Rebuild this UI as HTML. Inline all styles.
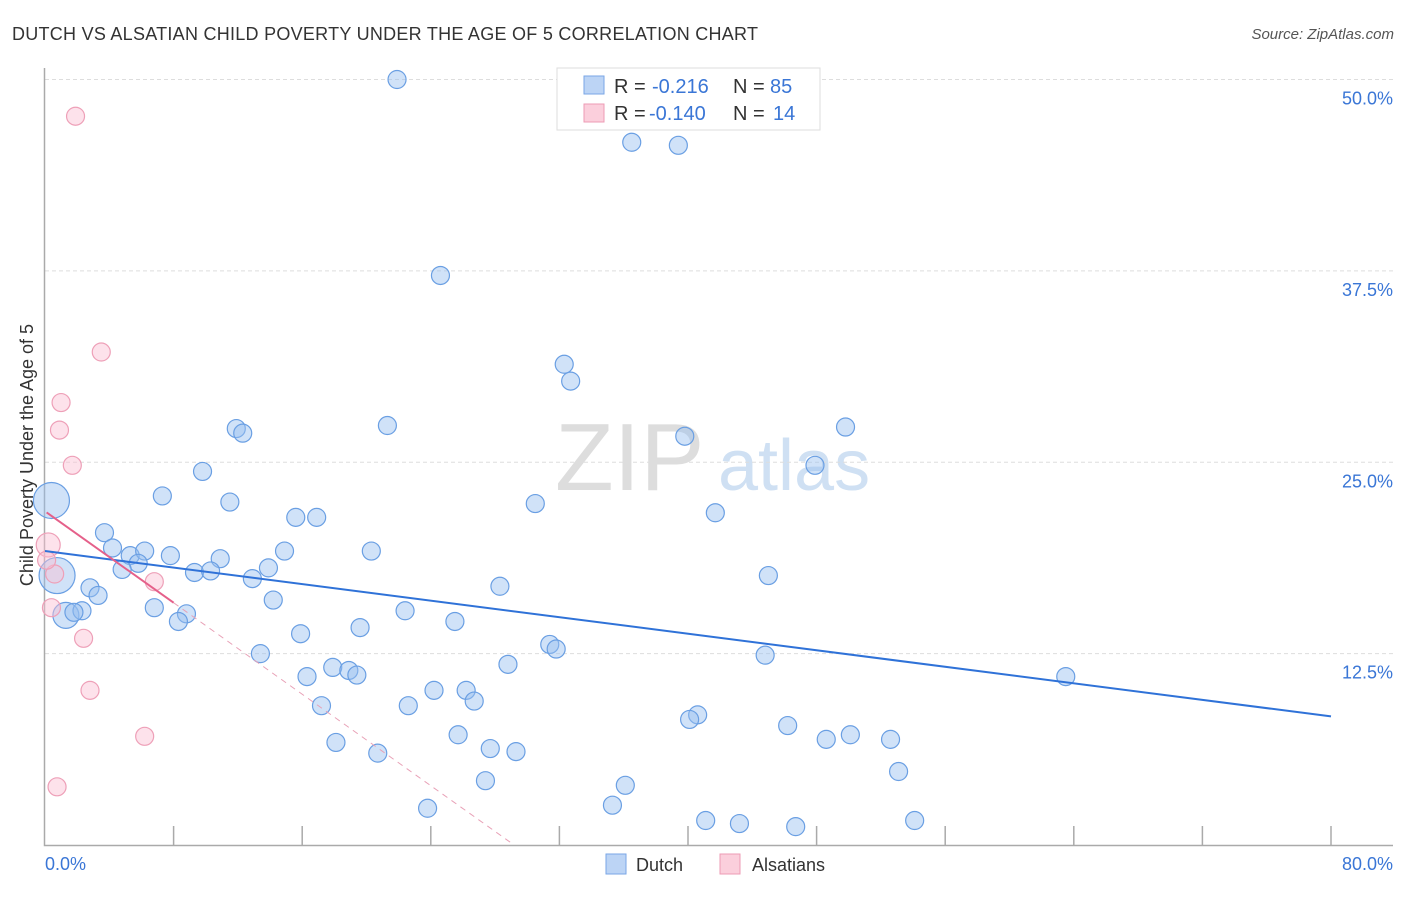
<!DOCTYPE html>
<html><head><meta charset="utf-8"><style>
body{margin:0;background:#fff;font-family:"Liberation Sans",sans-serif}
svg text{font-family:"Liberation Sans",sans-serif}
</style></head><body>
<svg id="c" width="1406" height="892">
<text x="12" y="40" font-size="18" fill="#333" textLength="746">DUTCH VS ALSATIAN CHILD POVERTY UNDER THE AGE OF 5 CORRELATION CHART</text>
<text x="1394" y="39" font-size="15" fill="#555" text-anchor="end" font-style="italic">Source: ZipAtlas.com</text>
<g><text x="555" y="490" font-size="96" fill="#ddd" font-family="Liberation Serif">ZIP</text><text x="718" y="490" font-size="72" fill="#cfe0f3">atlas</text></g>
<g id="grid"></g><g id="axes"></g><g id="pts"></g><g id="trend"></g>
<text x="33" y="455" font-size="18" fill="#333" text-anchor="middle" transform="rotate(-90 33 455)">Child Poverty Under the Age of 5</text>
<text x="45" y="870" font-size="18" fill="#3a76d6">0.0%</text>
<text x="1393" y="870" font-size="18" fill="#3a76d6" text-anchor="end">80.0%</text>
<g>
<rect x="557" y="68" width="263" height="62" fill="#fff" stroke="#ddd"/>
<rect x="584" y="76" width="20" height="18" fill="#bcd4f5" stroke="#7aa6e6"/>
<rect x="584" y="104" width="20" height="18" fill="#fbcfdc" stroke="#ee9bb4"/>
<text y="93" font-size="20" fill="#333"><tspan x="614">R =</tspan><tspan x="652" fill="#3a76d6">-0.216</tspan><tspan x="733">N =</tspan><tspan x="770" fill="#3a76d6">85</tspan></text>
<text y="120" font-size="20" fill="#333"><tspan x="614">R =</tspan><tspan x="649" fill="#3a76d6">-0.140</tspan><tspan x="733">N =</tspan><tspan x="773" fill="#3a76d6">14</tspan></text>
</g>
<g>
<rect x="606" y="854" width="20" height="20" fill="#bcd4f5" stroke="#7aa6e6"/>
<text x="636" y="871" font-size="18" fill="#333">Dutch</text>
<rect x="720" y="854" width="20" height="20" fill="#fbcfdc" stroke="#ee9bb4"/>
<text x="752" y="871" font-size="18" fill="#333">Alsatians</text>
</g>
</svg>
<script>
const yTicks=[12.5,25,37.5,50];
const yTickLabels=["12.5%","25.0%","37.5%","50.0%"];
const xTicks=[0,8,16,24,32,40,48,56,64,72,80];
const dutchX=[21.9,36.5,39.4,24.6,32.3,32.7,21.3,11.9,12.3,39.8,49.8,47.9,9.8,7.3,11.5,30.5,41.7,15.6,16.9,3.7,4.2,5.3,6.2,7.8,5.8,4.8,10.9,14.9,20.3,9.3,10.3,13.9,12.9,45.0,2.8,3.3,28.3,14.2,6.8,8.8,8.3,22.4,1.3,2.3,1.8,25.5,19.6,15.9,31.4,31.8,13.4,44.8,28.8,17.9,18.9,19.4,16.3,63.5,24.2,26.2,26.7,17.2,22.6,40.6,40.1,46.2,25.7,48.6,50.1,52.6,18.1,27.7,29.3,20.7,53.1,27.4,36.1,35.3,23.8,41.1,43.2,46.7,54.1,0.4,0.75];
const dutchY=[50.0,45.9,45.7,37.2,31.4,30.3,27.4,27.2,26.9,26.7,27.3,24.8,24.4,22.8,22.4,22.3,21.7,21.4,21.4,20.4,19.4,18.9,19.2,18.9,18.4,18.0,18.7,19.2,19.2,17.8,17.9,18.1,17.4,17.6,16.8,16.3,16.9,16.0,15.5,15.1,14.6,15.3,15.0,15.3,15.2,14.6,14.2,13.8,13.1,12.8,12.5,12.4,11.8,11.6,11.4,11.1,11.0,11.0,10.1,10.1,9.4,9.1,9.1,8.5,8.2,7.8,7.2,6.9,7.2,6.9,6.7,6.3,6.1,6.0,4.8,4.2,3.9,2.6,2.4,1.6,1.4,1.2,1.6,22.5,17.6];
const dutchSize=[9,9,9,9,9,9,9,9,9,9,9,9,9,9,9,9,9,9,9,9,9,9,9,9,9,9,9,9,9,9,9,9,9,9,9,9,9,9,9,9,9,9,13,9,9,9,9,9,9,9,9,9,9,9,9,9,9,9,9,9,9,9,9,9,9,9,9,9,9,9,9,9,9,9,9,9,9,9,9,9,9,9,9,18,18];
const alsX=[1.9,3.5,1.0,0.9,1.7,0.2,0.6,6.8,0.4,2.4,2.8,6.2,0.75,0.1];
const alsY=[47.6,32.2,28.9,27.1,24.8,19.6,17.7,17.2,15.5,13.5,10.1,7.1,3.8,18.6];
const alsSize=[9,9,9,9,9,12,9,9,9,9,9,9,9,9];
const dutchTrend=[19.2,8.4];
const alsTrend=[21.8,-0.747];
const X=v=>45+v*16.075, Y=v=>845-v*15.31;
const NS="http://www.w3.org/2000/svg";
function mk(p,t,a){const e=document.createElementNS(NS,t);for(const k in a)e.setAttribute(k,a[k]);document.getElementById(p).appendChild(e);return e;}
yTicks.forEach((t,i)=>{
 const l=mk('grid','line',{x1:45,x2:1393,y1:Y(t),y2:Y(t),stroke:'#ddd','stroke-dasharray':'4 3'});
 
 
 const tx=mk('grid','text',{x:1393,y:Y(t)+25,'font-size':18,fill:'#3a76d6','text-anchor':'end'});
 tx.textContent=yTickLabels[i];
 
 
});
const ax=mk('axes','path',{d:`M44.5 68V845.5H1393`,stroke:'#aaa',fill:'none','stroke-width':1.5});


xTicks.slice(1).forEach(t=>{
 const l=mk('axes','line',{x1:X(t),x2:X(t),y1:826,y2:845,stroke:'#aaa','stroke-width':1.5});
 
 
});
dutchX.forEach((v,i)=>{
 const c=mk('pts','circle',{cx:X(v),cy:Y(dutchY[i]),r:dutchSize[i],fill:'rgba(150,190,240,0.45)',stroke:'#6a9fe3','stroke-width':1.2});
 
 
});
alsX.forEach((v,i)=>{
 const c=mk('pts','circle',{cx:X(v),cy:Y(alsY[i]),r:alsSize[i],fill:'rgba(250,190,210,0.45)',stroke:'#eea0b8','stroke-width':1.2});
 
 
});
const bt=mk('trend','line',{x1:X(0),y1:Y(dutchTrend[0]),x2:X(80),y2:Y(dutchTrend[1]),stroke:'#2f72d8','stroke-width':2});


const aEnd=-alsTrend[0]/alsTrend[1];
const ad=mk('trend','line',{x1:X(8),y1:Y(alsTrend[0]+alsTrend[1]*8),x2:X(aEnd),y2:Y(0),stroke:'#e8a0b6','stroke-width':1,'stroke-dasharray':'6 5'});


const as=mk('trend','line',{x1:X(0.1),y1:Y(alsTrend[0]+alsTrend[1]*0.1),x2:X(8),y2:Y(alsTrend[0]+alsTrend[1]*8),stroke:'#e5608a','stroke-width':2});


</script>
</body></html>
